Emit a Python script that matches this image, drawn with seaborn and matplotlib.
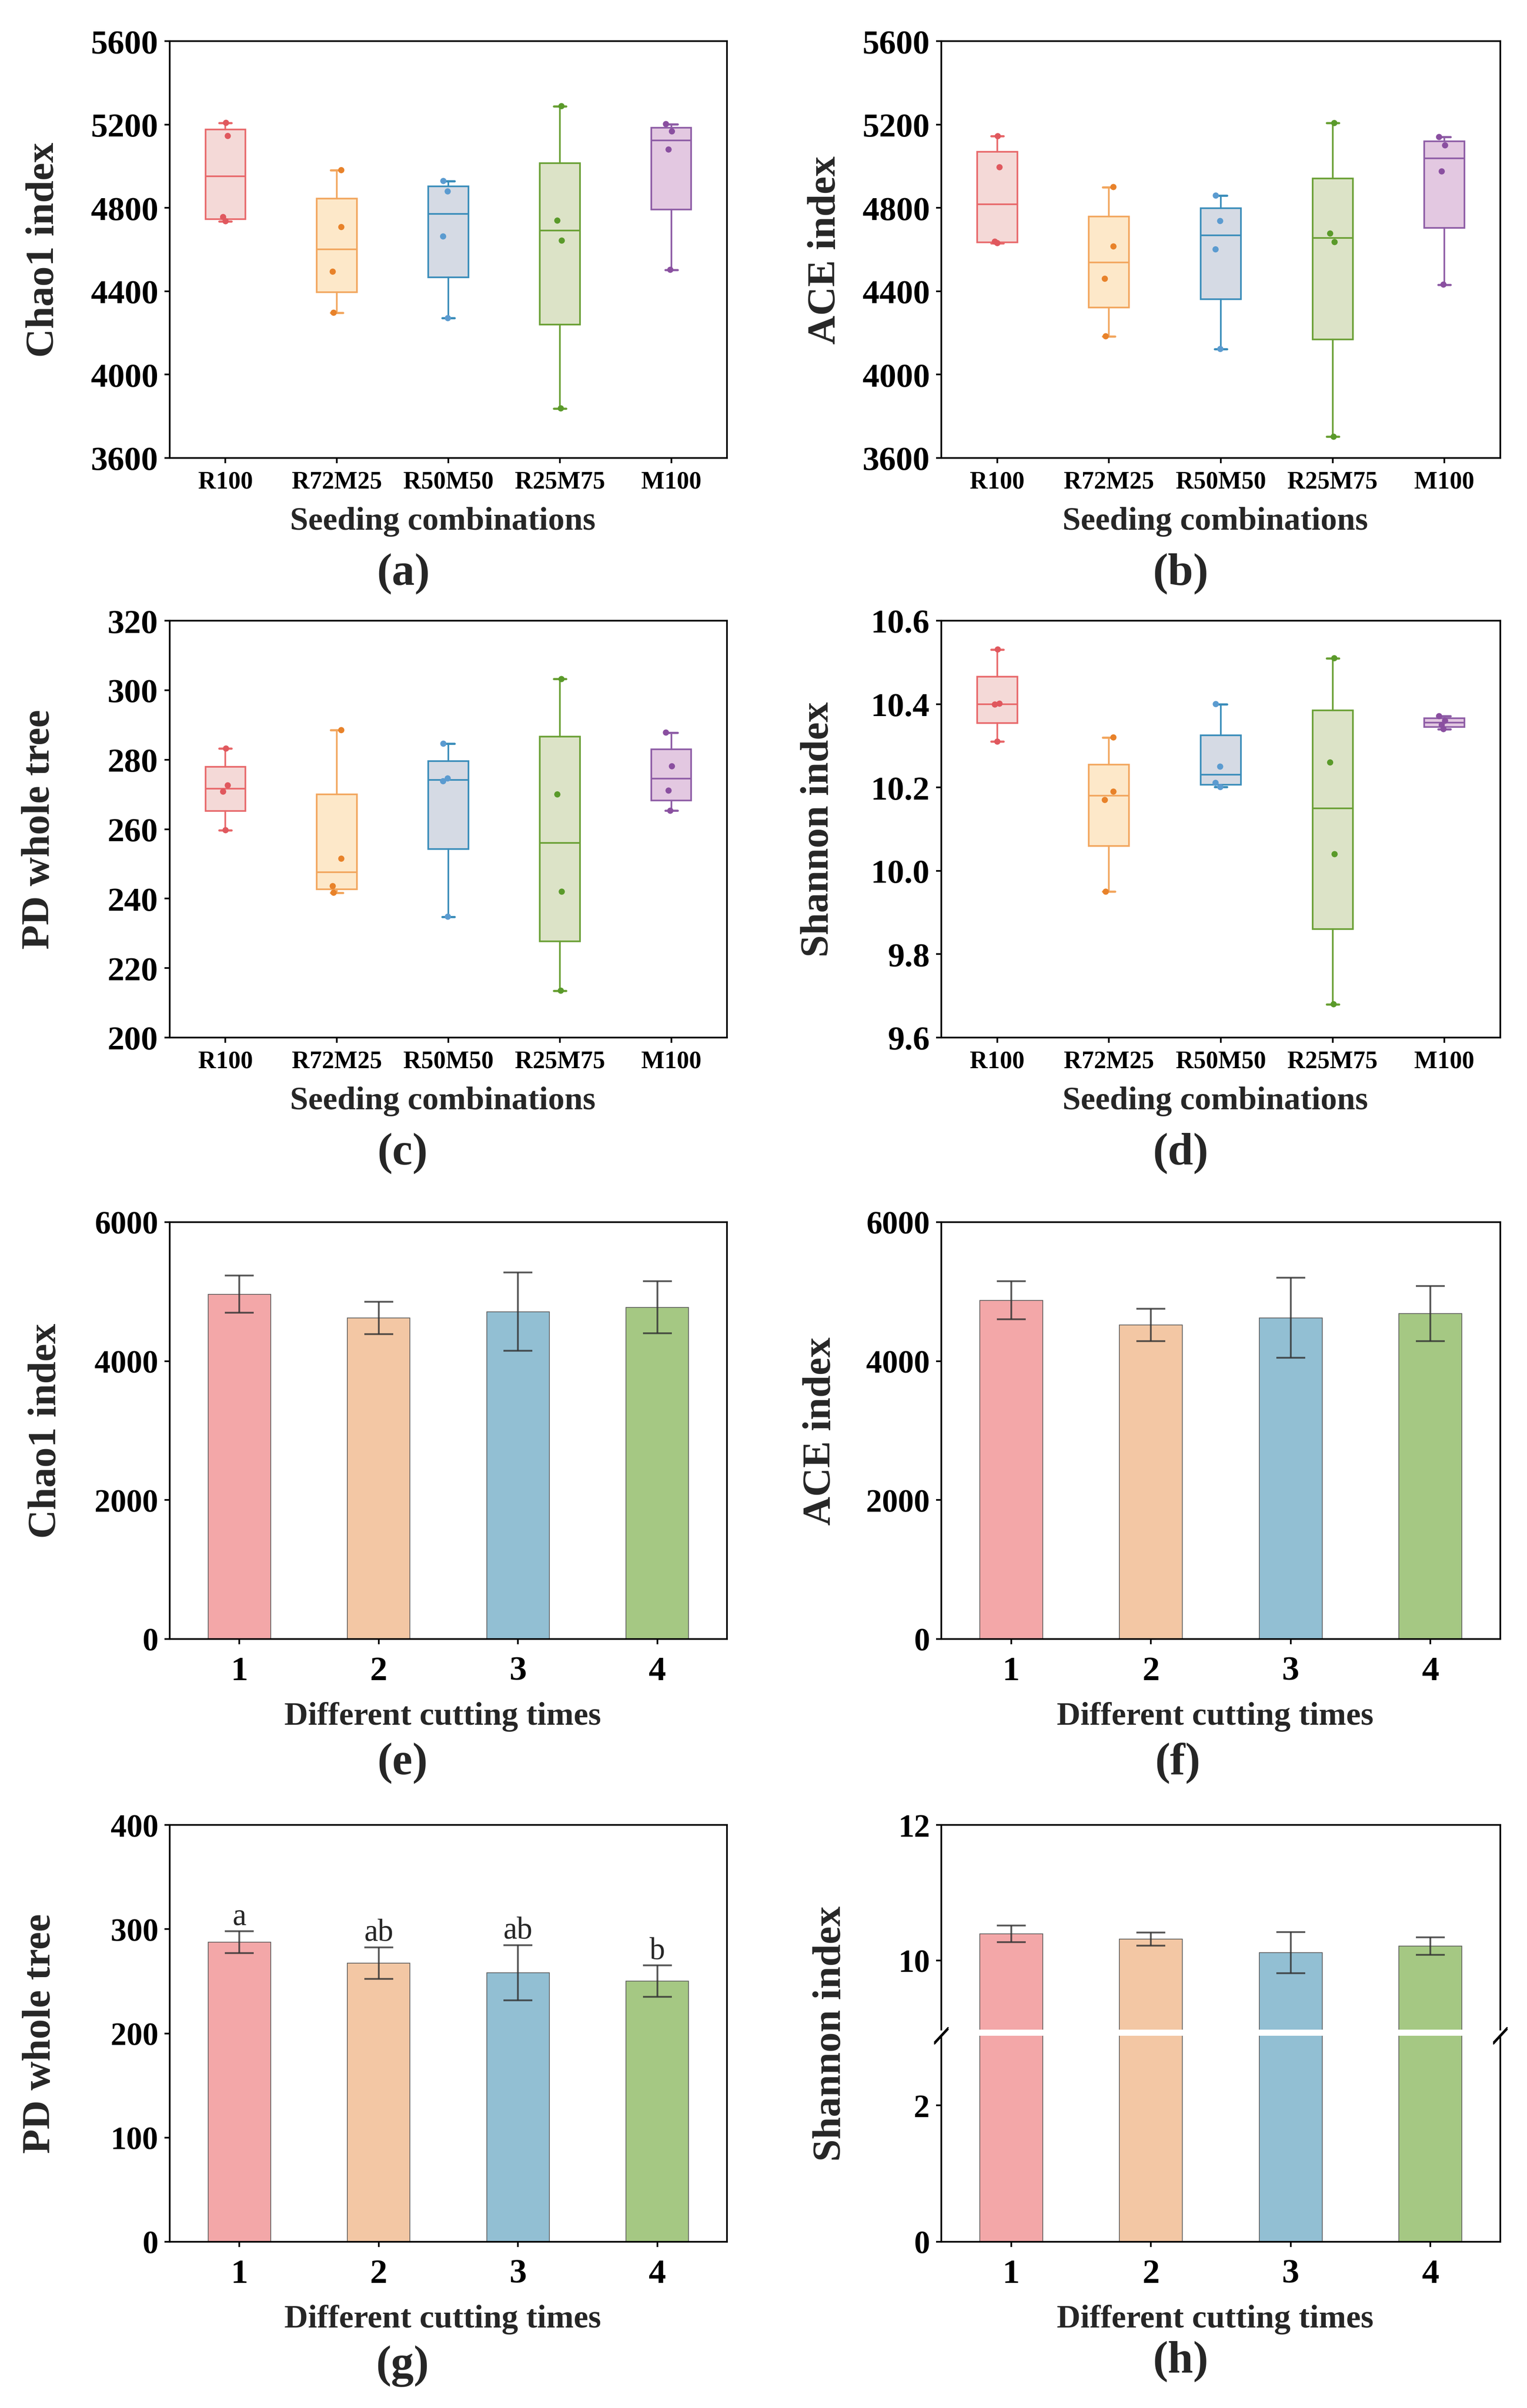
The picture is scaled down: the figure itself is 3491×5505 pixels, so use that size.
import numpy as np
import pandas as pd
import matplotlib
matplotlib.use("Agg")
import matplotlib.pyplot as plt
import seaborn as sns

sns.set_style("ticks")
plt.rcParams["font.family"] = ["Liberation Serif", "DejaVu Serif"]
plt.rcParams["font.weight"] = "bold"
plt.rcParams["axes.labelweight"] = "bold"

# ---- data: seeding combinations (4 replicates each) ----
groups = ["R100", "R72M25", "R50M50", "R25M75", "M100"]
chao1_values = [[5208, 5145, 4756, 4736], [4981, 4708, 4494, 4297], [4929, 4879, 4663, 4271],
                [5288, 4739, 4643, 3838], [5202, 5167, 5080, 4503]]
ace_values = [[5144, 4995, 4638, 4631], [4900, 4615, 4460, 4184], [4859, 4737, 4601, 4123],
              [5207, 4677, 4636, 3702], [5140, 5100, 4975, 4432]]
pd_values = [[283.2, 272.6, 270.8, 259.7], [288.5, 251.5, 243.6, 241.7], [284.6, 274.6, 273.8, 234.8],
             [303.2, 270.0, 242.0, 213.5], [287.8, 278.1, 271.1, 265.3]]
shannon_values = [[10.531, 10.401, 10.399, 10.31], [10.32, 10.19, 10.17, 9.95], [10.40, 10.25, 10.211, 10.201],
                  [10.51, 10.26, 10.04, 9.68], [10.371, 10.36, 10.35, 10.34]]

# ---- data: cutting times (mean, sd) ----
cut_labels = ["1", "2", "3", "4"]
cut_chao1_mean = [4963, 4623, 4712, 4773]
cut_chao1_err = [268, 232, 566, 374]
cut_ace_mean = [4874, 4522, 4623, 4684]
cut_ace_err = [273, 232, 575, 396]
cut_pd_mean = [287.6, 267.4, 258.1, 250.2]
cut_pd_err = [10.5, 15.1, 26.5, 15.0]
cut_pd_letters = ["a", "ab", "ab", "b"]
cut_shannon_mean = [10.395, 10.315, 10.115, 10.212]
cut_shannon_err = [0.123, 0.097, 0.304, 0.129]

# ---- colours ----
box_edge = ["#E8696B", "#F2A65E", "#3A8DBA", "#6AA035", "#8E5DA6"]
box_fill = ["#F4D9D7", "#FDE8C9", "#D5DAE4", "#DCE3C7", "#E3C8E1"]
point_col = ["#E0585E", "#E8822A", "#5B9BD0", "#5A9A2A", "#8A4FA0"]
bar_col = ["#F3A7A8", "#F3C7A4", "#92BFD3", "#A5C883"]

W, H = 3491, 5506
fig = plt.figure(figsize=(W / 300, H / 300), dpi=300)

col_x = [(388, 1274), (2152, 1278)]
row_top = [95, 1420, 2795, 4173]
AX_H = 953


def make_ax(col, row, top=None, height=AX_H):
    x0, w = col_x[col]
    t = row_top[row] if top is None else top
    return fig.add_axes([x0 / W, 1 - (t + height) / H, w / W, height / H])


def style(ax, labelsize=18):
    for sp in ax.spines.values():
        sp.set_linewidth(0.9)
        sp.set_color("black")
        sp.set_visible(True)
    ax.tick_params(axis="both", direction="out", length=2.8, width=0.9, colors="black")
    ax.tick_params(axis="y", labelsize=labelsize, pad=3.5)


def box_panel(ax, values, ylabel, ylim, yticks, fmt, ylab_x, letter, letter_x):
    stats = []
    for g, v in zip(groups, values):
        q1, med, q3 = np.percentile(v, [25, 50, 75], method="midpoint")
        stats.append(dict(label=g, med=med, q1=q1, q3=q3, whislo=min(v), whishi=max(v), fliers=[]))
    bp = ax.bxp(stats, positions=range(len(values)), widths=0.36, patch_artist=True,
                showfliers=False, capwidths=0.11)
    for i in range(len(values)):
        bp["boxes"][i].set(facecolor=box_fill[i], edgecolor=box_edge[i], linewidth=0.9)
        bp["medians"][i].set(color=box_edge[i], linewidth=0.9)
        for k in (2 * i, 2 * i + 1):
            bp["whiskers"][k].set(color=box_edge[i], linewidth=0.9)
            bp["caps"][k].set(color=box_edge[i], linewidth=1.2)
    df = pd.DataFrame({"group": np.repeat(groups, [len(v) for v in values]),
                       "value": np.concatenate(values)})
    np.random.seed(3)
    sns.stripplot(data=df, x="group", y="value", hue="group", order=groups, hue_order=groups,
                  palette=point_col, jitter=0.05, size=3.4, legend=False, ax=ax, zorder=4)
    ax.set_xticks(range(len(groups)))
    ax.set_xticklabels(groups)
    ax.set_xlim(-0.5, 4.5)
    ax.set_ylim(*ylim)
    ax.set_yticks(yticks)
    ax.set_yticklabels([fmt.format(t) for t in yticks])
    style(ax, labelsize=18.5)
    ax.tick_params(axis="x", labelsize=13.5, pad=4)
    ax.set_xlabel("Seeding combinations", fontsize=18, va="center")
    ax.xaxis.set_label_coords(0.49, -0.152)
    ax.set_ylabel(ylabel, fontsize=22, va="center")
    ax.yaxis.set_label_coords(ylab_x, 0.5)
    ax.text(letter_x, -0.277, letter, transform=ax.transAxes, ha="center", va="center",
            fontsize=25, fontweight="bold")


def draw_bars(ax, means, errs):
    sns.barplot(x=cut_labels, y=means, hue=cut_labels, palette=bar_col, legend=False,
                saturation=1, width=0.45, edgecolor="#555555", linewidth=0.4, ax=ax)
    ax.errorbar(range(len(means)), means, yerr=errs, fmt="none", ecolor="#333333",
                elinewidth=1.0, capsize=8, capthick=1.0, alpha=0.8, zorder=5)
    ax.set_xlim(-0.5, 3.5)


def bar_panel(ax, means, errs, ylabel, ylim, yticks, ylab_x, letter, letter_x, sig=None):
    draw_bars(ax, means, errs)
    if sig is not None:
        for i, s in enumerate(sig):
            ax.text(i, means[i] + errs[i], s, ha="center", va="bottom", fontsize=17,
                    fontweight="normal")
    ax.set_ylim(*ylim)
    ax.set_yticks(yticks)
    style(ax, labelsize=17.5)
    ax.tick_params(axis="x", labelsize=19, pad=6.5)
    ax.set_xlabel("Different cutting times", fontsize=18, va="center")
    ax.xaxis.set_label_coords(0.49, -0.186)
    ax.set_ylabel(ylabel, fontsize=22, va="center")
    ax.yaxis.set_label_coords(ylab_x, 0.5)
    ax.text(letter_x, -0.297, letter, transform=ax.transAxes, ha="center", va="center",
            fontsize=25, fontweight="bold")


# (a) - (d) box plots
box_panel(make_ax(0, 0), chao1_values, "Chao1 index", (3600, 5600), range(3600, 5601, 400),
          "{:d}", -0.226, "(a)", 0.419)
box_panel(make_ax(1, 0), ace_values, "ACE index", (3600, 5600), range(3600, 5601, 400),
          "{:d}", -0.207, "(b)", 0.428)
box_panel(make_ax(0, 1), pd_values, "PD whole tree", (200, 320), range(200, 321, 20),
          "{:d}", -0.234, "(c)", 0.418)
box_panel(make_ax(1, 1), shannon_values, "Shannon index", (9.6, 10.6),
          [9.6, 9.8, 10.0, 10.2, 10.4, 10.6], "{:.1f}", -0.2195, "(d)", 0.428)

# (e) - (g) bar charts
bar_panel(make_ax(0, 2), cut_chao1_mean, cut_chao1_err, "Chao1 index", (0, 6000),
          [0, 2000, 4000, 6000], -0.222, "(e)", 0.418)
bar_panel(make_ax(1, 2), cut_ace_mean, cut_ace_err, "ACE index", (0, 6000),
          [0, 2000, 4000, 6000], -0.216, "(f)", 0.423)
bar_panel(make_ax(0, 3), cut_pd_mean, cut_pd_err, "PD whole tree", (0, 400),
          [0, 100, 200, 300, 400], -0.232, "(g)", 0.418, sig=cut_pd_letters)

# (h) broken-axis bar chart
ax_top = make_ax(1, 3, top=4173, height=468)
ax_bot = make_ax(1, 3, top=4655, height=471)
for ax, lim, ticks in ((ax_top, (8.98, 12), [10, 12]), (ax_bot, (0, 3.02), [0, 2])):
    draw_bars(ax, cut_shannon_mean, cut_shannon_err)
    ax.set_ylim(*lim)
    ax.set_yticks(ticks)
    style(ax, labelsize=17.5)
    ax.set_xlabel("")
    ax.set_ylabel("")
ax_top.spines["bottom"].set_visible(False)
ax_top.tick_params(axis="x", bottom=False, labelbottom=False)
ax_bot.spines["top"].set_visible(False)
ax_bot.tick_params(axis="x", labelsize=19, pad=6.5)
ax_bot.set_xlabel("Different cutting times", fontsize=18, va="center")
ax_bot.xaxis.set_label_coords(0.49, -0.186 * AX_H / 471)
ax_bot.text(0.428, 1 - (5399 - 4655) / 471, "(h)", transform=ax_bot.transAxes, ha="center",
            va="center", fontsize=25, fontweight="bold")
fig.text(1899 / W, 1 - 4649.5 / H, "Shannon index", rotation=90, ha="center", va="center",
         fontsize=22, fontweight="bold")
# break marks on both spines
for xb in (0, 1):
    for dy in (-0.004, 0.004):
        ax_bot.plot([xb - 0.012, xb + 0.012], [1.0 + dy - 0.035, 1.0 + dy + 0.035],
                    transform=ax_bot.transAxes, color="black", lw=0.8, clip_on=False)

fig.savefig("out.png", dpi=300, facecolor="white")
